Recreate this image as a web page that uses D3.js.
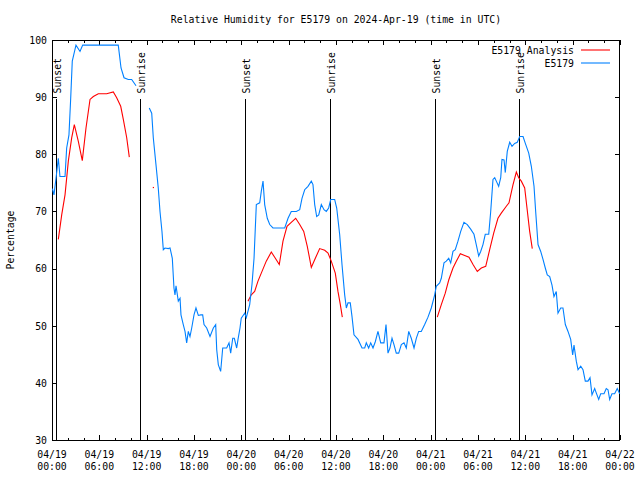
<!DOCTYPE html>
<html>
<head>
<meta charset="utf-8">
<script src="https://cdn.jsdelivr.net/npm/d3@7"></script>
<style>
  html, body { margin: 0; padding: 0; background: #fff; }
  svg { display: block; }
  text { font-family: "DejaVu Sans Mono", "Liberation Mono", monospace; font-size: 9.8px; fill: #000; }
</style>
</head>
<body>
<script>
// ---- Data (time = hours since 2024-04-19 00:00 UTC) ----
const chartTitle = "Relative Humidity for E5179 on 2024-Apr-19 (time in UTC)";
const yLabel = "Percentage";
const seriesNames = ["E5179 Analysis", "E5179"];
const yTicks = [30, 40, 50, 60, 70, 80, 90, 100];
const xTickHours = [0, 6, 12, 18, 24, 30, 36, 42, 48, 54, 60, 66, 72];

const sunEventHours = [0.47, 11.2, 24.5, 35.28, 48.59, 59.24];
const sunEventLabels = ["Sunset", "Sunrise", "Sunset", "Sunrise", "Sunset", "Sunrise"];

const analysisTimes = [0.80,1.23,1.65,2.07,2.50,2.83,3.33,3.84,4.31,4.82,5.24,5.87,6.93,7.77,8.20,8.71,9.04,9.47,9.80,
  11.0, 12.84, 18.0,
  24.84,25.26,25.69,26.11,26.53,27.16,27.80,28.31,28.81,29.28,29.79,30.33,30.89,31.40,31.91,32.36,32.87,33.38,33.93,34.57,34.99,35.40,35.91,36.25,36.55,36.80,
  42.0,
  48.84,49.35,49.85,50.29,50.83,51.25,51.76,52.31,52.86,53.37,53.91,54.42,54.98,55.48,55.99,56.53,56.95,57.59,57.93,58.44,58.86,59.16,59.49,59.92,60.21,60.55,60.88];
const analysisValues = [65.1,69.4,72.9,78.8,82.9,85.2,82.3,78.9,84.6,89.6,90.1,90.6,90.6,90.9,89.9,88.4,86.1,82.9,79.5,
  null, 74.2, null,
  54.3,55.4,56.0,57.8,59.2,61.3,62.9,61.8,60.7,64.8,67.4,68.1,68.8,67.7,66.5,63.9,60.2,61.8,63.5,63.2,62.7,61.3,59.2,56.0,53.7,51.5,
  null,
  51.5,53.7,55.7,58.0,60.1,61.3,62.6,62.3,62.0,60.7,59.5,60.1,60.4,63.3,66.2,68.8,69.7,70.9,71.5,74.7,76.9,75.9,75.3,74.1,70.6,66.5,63.5];

const obsTimes = [0.05,0.25,0.51,0.80,1.01,1.65,1.86,2.15,2.37,2.57,3.04,3.55,3.89,8.40,8.75,9.13,9.67,10.10,10.65,
  11.5,
  12.33,12.64,12.84,13.18,13.47,13.69,13.94,14.11,14.32,14.74,14.96,15.25,15.46,15.59,15.72,16.01,16.23,16.35,16.64,16.86,17.07,17.28,17.49,17.71,18.00,18.25,18.55,18.85,19.10,19.27,19.61,20.03,20.45,20.75,20.88,21.08,21.38,21.64,22.14,22.44,22.65,22.91,23.11,23.41,23.58,23.83,
  23.99,24.43,24.63,25.06,25.35,25.61,25.90,26.33,26.53,26.75,26.96,27.29,27.60,28.01,29.50,29.92,30.33,30.97,31.40,31.69,32.03,32.45,32.87,33.08,33.30,33.55,33.81,34.14,34.48,34.77,35.07,35.33,35.83,36.09,36.47,36.76,37.10,37.31,37.52,37.81,38.03,38.28,38.79,39.30,39.64,39.84,40.14,40.40,40.69,40.98,41.32,41.67,42.08,42.34,42.59,42.84,43.10,43.35,43.64,43.95,44.28,44.62,44.91,45.22,45.54,45.89,46.18,46.48,46.81,47.24,47.66,
  48.08,48.51,48.71,49.14,49.35,49.69,49.98,50.29,50.54,50.83,51.12,51.46,51.81,52.22,52.64,53.07,53.49,53.78,54.09,54.34,54.63,54.92,55.36,55.61,55.90,56.12,56.32,56.62,56.88,57.04,57.30,57.46,57.71,58.02,58.31,58.65,58.98,59.29,59.71,60.00,60.43,60.76,61.10,61.31,61.61,61.95,62.24,62.53,62.78,63.09,63.38,63.63,63.92,64.14,64.48,64.77,65.07,65.41,65.75,66.00,66.17,66.46,66.68,67.02,67.31,67.60,67.94,68.20,68.45,68.79,69.00,69.30,69.55,69.97,70.26,70.48,70.69,70.98,71.32,71.65,71.96];
const obsValues = [74.0,72.9,75.8,79.3,76.1,76.1,81.1,83.4,89.8,96.3,99.1,98.0,99.1,99.1,95.1,93.4,93.1,93.1,92.0,
  null,
  88.1,87.2,82.9,78.2,74.1,70.0,66.5,63.3,63.6,63.5,63.6,61.8,56.6,55.4,57.0,54.3,54.8,51.9,50.2,49.0,47.0,49.0,48.1,49.6,51.9,53.1,51.8,51.9,51.9,50.2,49.6,48.1,49.6,50.2,45.8,43.2,42.0,46.1,46.1,47.0,45.2,47.8,47.8,46.1,47.6,49.6,
  51.3,52.2,51.4,53.7,57.2,61.8,71.2,71.5,73.5,75.3,71.2,68.8,67.7,67.1,67.1,68.8,70.0,70.0,70.3,72.3,73.8,74.4,75.3,74.7,71.2,69.1,69.4,71.2,70.3,70.0,70.6,72.1,72.1,70.6,65.9,60.7,55.4,53.1,54.0,54.0,51.6,48.4,47.6,46.1,46.1,47.0,46.1,47.0,46.1,47.2,49.0,47.0,47.0,50.2,45.2,46.1,47.8,46.7,45.2,45.2,46.7,47.0,46.1,49.0,47.8,46.1,47.8,49.0,49.0,50.2,51.5,
  53.1,55.4,56.9,57.5,58.3,61.0,61.3,61.8,61.0,63.0,63.3,64.8,66.5,68.1,67.7,66.9,66.0,64.2,62.2,63.0,64.2,66.0,66.0,70.0,75.6,75.9,75.3,74.4,75.9,79.1,79.0,76.8,80.5,82.1,81.4,81.9,82.1,83.1,83.1,81.9,80.2,77.9,74.4,70.0,64.2,63.0,61.6,60.1,58.9,58.6,57.1,55.1,56.0,52.2,53.1,53.1,50.2,49.0,47.6,44.9,46.6,43.8,42.3,42.9,42.3,40.3,40.3,40.9,37.9,39.0,38.2,37.1,38.1,38.1,39.0,38.8,37.1,38.1,38.1,39.0,38.1];

// ---- Layout ----
const W = 640, H = 480;
const L = 52, R = 620, T = 40, B = 440;
const t0 = Date.UTC(2024, 3, 19);
const toDate = h => new Date(t0 + h * 3600e3);
const colors = ["#ff0000", "#0080ff"];

const svg = d3.select("body").append("svg").attr("width", W).attr("height", H);

const x = d3.scaleUtc().domain([toDate(0), toDate(72)]).range([L, R]);
const y = d3.scaleLinear().domain([30, 100]).range([B, T]);

// Title
svg.append("text").attr("x", (L + R) / 2).attr("y", 23).attr("text-anchor", "middle").text(chartTitle);

// Y label
svg.append("text").attr("transform", `translate(14,${(T + B) / 2}) rotate(-90)`)
  .attr("text-anchor", "middle").text(yLabel);

// Axes with ticks inward
const majorTicks = xTickHours.map(toDate);
const minorTicks = d3.range(0, 73, 2).filter(h => h % 6 !== 0).map(toDate);
const fmtD = d3.utcFormat("%m/%d"), fmtT = d3.utcFormat("%H:%M");

const gAx = svg.append("g").attr("shape-rendering", "crispEdges");
gAx.append("g").attr("transform", `translate(0,${B})`)
  .call(d3.axisBottom(x).tickValues(majorTicks).tickSize(-5).tickFormat(""));
gAx.append("g").attr("transform", `translate(0,${B})`)
  .call(d3.axisBottom(x).tickValues(minorTicks).tickSize(-2.5).tickFormat(""));
gAx.append("g").attr("transform", `translate(0,${T})`)
  .call(d3.axisTop(x).tickValues(majorTicks).tickSize(-5).tickFormat(""));
gAx.append("g").attr("transform", `translate(0,${T})`)
  .call(d3.axisTop(x).tickValues(minorTicks).tickSize(-2.5).tickFormat(""));
const yAxisLeft = gAx.append("g").attr("transform", `translate(${L},0)`)
  .call(d3.axisLeft(y).tickValues(yTicks).tickSize(-5).tickFormat(d3.format("d")));
gAx.append("g").attr("transform", `translate(${R},0)`)
  .call(d3.axisRight(y).tickValues(yTicks).tickSize(-5).tickFormat(""));
gAx.selectAll(".domain").remove();
gAx.selectAll(".tick line").attr("stroke", "#000");
yAxisLeft.attr("font-family", null).attr("font-size", null);
yAxisLeft.selectAll("text").attr("fill", "#000").attr("x", -5).attr("dy", "0.34em");

// X tick labels (two lines)
const xl = svg.append("g");
majorTicks.forEach(d => {
  const t = xl.append("text").attr("x", x(d)).attr("text-anchor", "middle");
  t.append("tspan").attr("x", x(d)).attr("y", 458).text(fmtD(d));
  t.append("tspan").attr("x", x(d)).attr("y", 470).text(fmtT(d));
});

// Border
svg.append("rect").attr("x", L + 0.5).attr("y", T + 0.5).attr("width", R - L - 1).attr("height", B - T)
  .attr("fill", "none").attr("stroke", "#000").attr("shape-rendering", "crispEdges");

// Sunrise / sunset lines
const gs = svg.append("g");
sunEventHours.forEach((h, i) => {
  const xx = Math.round(x(toDate(h))) + 0.5;
  gs.append("line").attr("x1", xx).attr("x2", xx).attr("y1", y(30)).attr("y2", y(89.6))
    .attr("stroke", "#000").attr("stroke-width", 1).attr("shape-rendering", "crispEdges");
  gs.append("text").attr("transform", `translate(${xx + 4},${y(89.6) - 6}) rotate(-90)`)
    .attr("text-anchor", "start").text(sunEventLabels[i]);
});

// Series
const line = d3.line().defined(d => d[1] != null).x(d => x(toDate(d[0]))).y(d => y(d[1]));
const analysis = analysisTimes.map((t, i) => [t, analysisValues[i]]);
const obs = obsTimes.map((t, i) => [t, obsValues[i]]);
[analysis, obs].forEach((data, k) => {
  svg.append("path").datum(data).attr("d", line).attr("fill", "none")
    .attr("stroke", colors[k]).attr("stroke-width", 1.1);
  data.forEach((d, i) => {
    if (d[1] != null && (i === 0 || data[i - 1][1] == null) && (i === data.length - 1 || data[i + 1][1] == null)) {
      svg.append("rect").attr("x", x(toDate(d[0])) - 0.5).attr("y", y(d[1]) - 0.5)
        .attr("width", 1.2).attr("height", 1.2).attr("fill", colors[k]);
    }
  });
});

// Legend
const lg = svg.append("g");
seriesNames.forEach((n, i) => {
  const yy = 50 + i * 13;
  lg.append("text").attr("x", 574).attr("y", yy + 4).attr("text-anchor", "end").text(n);
  lg.append("line").attr("x1", 581).attr("x2", 610).attr("y1", yy).attr("y2", yy)
    .attr("stroke", colors[i]).attr("stroke-width", 1.1);
});
</script>
</body>
</html>
